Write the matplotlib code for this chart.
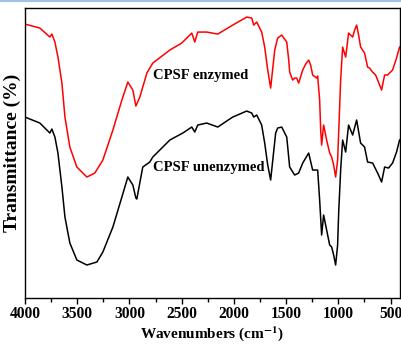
import matplotlib
matplotlib.use("Agg")
import matplotlib.pyplot as plt
from matplotlib.lines import Line2D
from matplotlib.ticker import MultipleLocator

# FTIR spectra (transmittance in arbitrary units)
wn_enz = [4000, 3857, 3761, 3742, 3713, 3684, 3646, 3617, 3570, 3503, 3407, 3331,
          3254, 3158, 3072, 3015, 2967, 2938, 2900, 2833, 2776, 2613, 2499, 2403,
          2374, 2346, 2260, 2154, 2011, 1877, 1829, 1810, 1781, 1734, 1705, 1676,
          1648, 1609, 1581, 1542, 1494, 1475, 1466, 1437, 1418, 1399, 1380, 1341,
          1313, 1284, 1265, 1246, 1208, 1198, 1179, 1169, 1160, 1141, 1112, 1083,
          1064, 1045, 1026, 1007, 997, 978, 959, 930, 902, 863, 844, 825,
          806, 787, 768, 749, 720, 701, 672, 643, 624, 586, 567, 557,
          529, 481, 443, 414]
t_enz = [274, 270, 261, 264, 256, 241, 215, 181, 151, 131, 121, 125,
         138, 168, 198, 216, 208, 192, 201, 225, 235, 248, 255, 265,
         256, 266, 266, 264, 273, 281, 280, 273, 276, 266, 251, 228,
         210, 248, 260, 263, 256, 238, 226, 218, 220, 220, 215, 228,
         234, 238, 233, 223, 220, 222, 198, 168, 153, 173, 158, 145,
         141, 133, 121, 138, 165, 218, 251, 241, 265, 261, 268, 273,
         263, 251, 248, 245, 231, 230, 226, 223, 218, 208, 218, 223,
         223, 228, 240, 251]

wn_unenz = [4000, 3857, 3761, 3742, 3713, 3684, 3646, 3617, 3570, 3503, 3407, 3311,
            3254, 3158, 3072, 3015, 2967, 2938, 2929, 2872, 2805, 2776, 2613, 2489,
            2403, 2374, 2346, 2260, 2154, 2011, 1877, 1829, 1810, 1781, 1734, 1705,
            1676, 1648, 1600, 1581, 1542, 1494, 1466, 1418, 1380, 1341, 1284, 1246,
            1198, 1179, 1160, 1141, 1112, 1083, 1064, 1045, 1026, 1007, 997, 978,
            959, 930, 902, 863, 825, 787, 749, 720, 672, 624, 586, 557,
            519, 481, 443, 414]
t_unenz = [181, 175, 165, 169, 161, 145, 111, 81, 55, 38, 33, 36,
           46, 71, 101, 121, 113, 100, 99, 131, 136, 141, 158, 165,
           171, 166, 173, 175, 171, 181, 187, 185, 181, 183, 173, 155,
           133, 118, 165, 170, 171, 161, 131, 123, 125, 135, 145, 128,
           128, 98, 63, 83, 68, 53, 51, 43, 33, 53, 85, 128,
           158, 146, 173, 163, 178, 155, 151, 136, 135, 125, 116, 131,
           130, 135, 146, 158]

plt.rcParams['font.family'] = ['Liberation Serif', 'DejaVu Serif']
plt.rcParams['font.weight'] = 'bold'
plt.rcParams['mathtext.fontset'] = 'stix'

fig = plt.figure(figsize=(4.02, 3.51), dpi=100)
ax = fig.add_axes([0.062, 0.151, 0.933, 0.826])

ax.plot(wn_enz, t_enz, color='red', lw=1.1)
ax.plot(wn_unenz, t_unenz, color='black', lw=1.1)

ax.text(2776, 223, 'CPSF enzymed', fontsize=10.5, fontweight='bold', va='center')
ax.text(2776, 131, 'CPSF unenzymed', fontsize=10.5, fontweight='bold', va='center')

ax.set_xlim(4000, 410)
ax.set_ylim(0, 290)
ax.xaxis.set_major_locator(MultipleLocator(500))
ax.xaxis.set_minor_locator(MultipleLocator(250))
ax.tick_params(axis='x', which='major', direction='out', length=4, width=1,
               labelsize=11.2, pad=2)
ax.tick_params(axis='x', which='minor', direction='out', length=3, width=1)
ax.set_yticks([])
for lbl in ax.get_xticklabels():
    lbl.set_fontweight('bold')
for sp in ax.spines.values():
    sp.set_linewidth(1.0)

ax.set_xlabel('Wavenumbers (cm$^{\\mathbf{-1}}$)', fontsize=11, fontweight='bold', labelpad=1)
ax.set_ylabel('Transmittance (%)', fontsize=14, fontweight='bold', labelpad=3)

# thin screenshot border at the top
fig.add_artist(Line2D([0, 1], [0.997, 0.997], color='#9fc3e6', lw=1.5,
                      transform=fig.transFigure))

fig.savefig('out.png', dpi=100)
